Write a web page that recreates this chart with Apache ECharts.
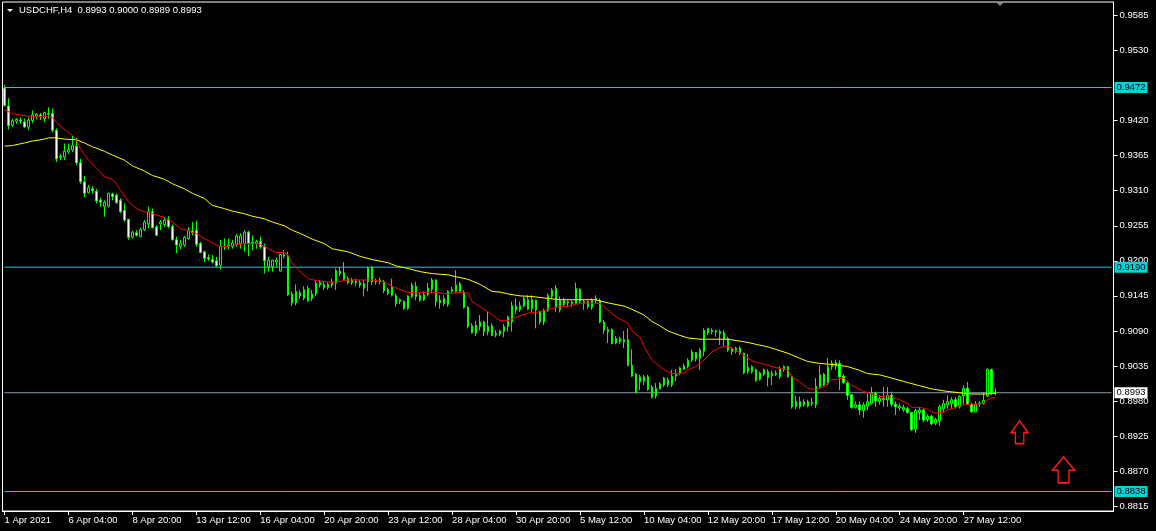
<!DOCTYPE html>
<html><head><meta charset="utf-8">
<script src="https://cdn.jsdelivr.net/npm/echarts@6/dist/echarts.min.js"></script>
<style>html,body{margin:0;padding:0;background:#000;}#c{width:1156px;height:531px;}</style>
</head><body><div id="c"></div>
<script>
const symbolName = 'USDCHF,H4';
const timeLabels = ['1 Apr 2021','6 Apr 04:00','8 Apr 20:00','13 Apr 12:00','16 Apr 04:00','20 Apr 20:00','23 Apr 12:00','28 Apr 04:00','30 Apr 20:00','5 May 12:00','10 May 04:00','12 May 20:00','17 May 12:00','20 May 04:00','24 May 20:00','27 May 12:00'];
const priceTicks = [0.9585,0.9530,0.9420,0.9365,0.9310,0.9255,0.9200,0.9145,0.9090,0.9035,0.8980,0.8925,0.8870,0.8815];
const levelLines = [0.9472,0.9190,0.8838];
const bidPrice = 0.8993;
const arrowIdx = [254,265];
const arrowPrice = [0.8931,0.8872];

const open = [
0.9471,0.9443,0.9413,0.9419,0.9421,0.9418,0.9410,0.9420,0.9427,0.9429,
0.9423,0.9431,0.9431,0.9405,0.9362,0.9363,0.9371,0.9374,0.9380,0.9354,
0.9324,0.9307,0.9313,0.9309,0.9295,0.9285,0.9286,0.9305,0.9303,0.9295,
0.9279,0.9265,0.9237,0.9244,0.9238,0.9249,0.9258,0.9277,0.9253,0.9258,
0.9257,0.9265,0.9254,0.9233,0.9223,0.9225,0.9235,0.9247,0.9248,0.9227,
0.9214,0.9205,0.9202,0.9200,0.9193,0.9222,0.9223,0.9222,0.9226,0.9227,
0.9227,0.9245,0.9229,0.9227,0.9230,0.9223,0.9191,0.9191,0.9198,0.9184,
0.9207,0.9208,0.9148,0.9134,0.9150,0.9141,0.9137,0.9148,0.9148,0.9162,
0.9163,0.9158,0.9162,0.9165,0.9184,0.9181,0.9172,0.9166,0.9168,0.9166,
0.9164,0.9167,0.9190,0.9168,0.9167,0.9167,0.9155,0.9146,0.9145,0.9136,
0.9136,0.9125,0.9144,0.9160,0.9138,0.9139,0.9147,0.9155,0.9170,0.9138,
0.9141,0.9131,0.9152,0.9152,0.9152,0.9151,0.9127,0.9098,0.9086,0.9097,
0.9104,0.9097,0.9098,0.9086,0.9085,0.9089,0.9097,0.9104,0.9123,0.9123,
0.9129,0.9124,0.9125,0.9138,0.9120,0.9104,0.9122,0.9144,0.9157,0.9123,
0.9131,0.9134,0.9135,0.9133,0.9155,0.9136,0.9136,0.9127,0.9138,0.9138,
0.9104,0.9092,0.9092,0.9071,0.9073,0.9076,0.9076,0.9036,0.9022,0.9010,
0.9011,0.9018,0.9002,0.8988,0.8999,0.9005,0.9013,0.9005,0.9019,0.9023,
0.9030,0.9034,0.9044,0.9056,0.9047,0.9058,0.9087,0.9091,0.9088,0.9089,
0.9087,0.9078,0.9062,0.9058,0.9063,0.9055,0.9026,0.9026,0.9029,0.9014,
0.9022,0.9026,0.9020,0.9022,0.9018,0.9029,0.9034,0.9018,0.8971,0.8979,
0.8974,0.8972,0.8978,0.8974,0.9002,0.9022,0.9008,0.9034,0.9040,0.9039,
0.9019,0.9008,0.8990,0.8970,0.8974,0.8965,0.8972,0.8976,0.8992,0.8979,
0.8982,0.8982,0.8989,0.8975,0.8969,0.8966,0.8968,0.8962,0.8936,0.8962,
0.8966,0.8951,0.8956,0.8945,0.8949,0.8968,0.8974,0.8976,0.8982,0.8971,
0.8988,0.9000,0.8975,0.8963,0.8976,0.8976,0.8988,0.9029,0.8993];
const close = [
0.9444,0.9412,0.9420,0.9422,0.9419,0.9410,0.9421,0.9429,0.9430,0.9426,
0.9433,0.9430,0.9405,0.9360,0.9364,0.9372,0.9375,0.9381,0.9354,0.9324,
0.9306,0.9315,0.9310,0.9294,0.9292,0.9292,0.9306,0.9301,0.9291,0.9277,
0.9264,0.9237,0.9245,0.9240,0.9249,0.9261,0.9277,0.9252,0.9240,0.9261,
0.9264,0.9254,0.9233,0.9225,0.9227,0.9237,0.9248,0.9244,0.9226,0.9213,
0.9204,0.9203,0.9198,0.9192,0.9223,0.9223,0.9225,0.9228,0.9239,0.9239,
0.9245,0.9227,0.9227,0.9230,0.9222,0.9200,0.9201,0.9201,0.9201,0.9210,
0.9210,0.9147,0.9134,0.9152,0.9145,0.9155,0.9157,0.9141,0.9165,0.9166,
0.9158,0.9163,0.9167,0.9185,0.9180,0.9171,0.9166,0.9170,0.9166,0.9162,
0.9157,0.9189,0.9167,0.9167,0.9170,0.9153,0.9149,0.9159,0.9133,0.9139,
0.9125,0.9145,0.9162,0.9144,0.9146,0.9147,0.9157,0.9170,0.9136,0.9134,
0.9133,0.9152,0.9155,0.9162,0.9164,0.9127,0.9097,0.9087,0.9099,0.9104,
0.9089,0.9089,0.9083,0.9084,0.9090,0.9097,0.9112,0.9130,0.9129,0.9130,
0.9141,0.9139,0.9139,0.9123,0.9104,0.9122,0.9146,0.9154,0.9128,0.9138,
0.9139,0.9136,0.9133,0.9157,0.9136,0.9134,0.9128,0.9138,0.9141,0.9104,
0.9091,0.9089,0.9070,0.9078,0.9078,0.9073,0.9036,0.9019,0.8993,0.9018,
0.9018,0.8998,0.8986,0.9000,0.9007,0.9016,0.9006,0.9019,0.9022,0.9032,
0.9035,0.9044,0.9057,0.9046,0.9060,0.9091,0.9094,0.9089,0.9090,0.9086,
0.9078,0.9060,0.9058,0.9063,0.9055,0.9024,0.9033,0.9034,0.9012,0.9024,
0.9029,0.9017,0.9023,0.9024,0.9031,0.9034,0.9018,0.8971,0.8979,0.8971,
0.8979,0.8979,0.8976,0.9003,0.9021,0.9005,0.9034,0.9039,0.9035,0.9018,
0.9009,0.8989,0.8970,0.8974,0.8966,0.8974,0.8979,0.8992,0.8980,0.8984,
0.8984,0.8989,0.8975,0.8971,0.8972,0.8970,0.8962,0.8935,0.8965,0.8966,
0.8950,0.8956,0.8944,0.8951,0.8971,0.8976,0.8979,0.8982,0.8971,0.8987,
0.9000,0.8975,0.8963,0.8975,0.8977,0.8981,0.9030,0.8992,0.8993];
const low = [
0.9442,0.9406,0.9410,0.9415,0.9415,0.9409,0.9405,0.9416,0.9422,0.9421,
0.9418,0.9423,0.9402,0.9355,0.9358,0.9358,0.9368,0.9371,0.9350,0.9321,
0.9300,0.9306,0.9306,0.9290,0.9285,0.9269,0.9284,0.9295,0.9290,0.9275,
0.9261,0.9233,0.9235,0.9238,0.9237,0.9247,0.9251,0.9251,0.9239,0.9248,
0.9253,0.9251,0.9232,0.9212,0.9218,0.9222,0.9233,0.9240,0.9222,0.9212,
0.9198,0.9200,0.9196,0.9191,0.9186,0.9217,0.9218,0.9219,0.9222,0.9219,
0.9214,0.9207,0.9217,0.9219,0.9219,0.9180,0.9183,0.9183,0.9191,0.9183,
0.9204,0.9145,0.9129,0.9130,0.9140,0.9138,0.9135,0.9137,0.9145,0.9158,
0.9154,0.9155,0.9158,0.9154,0.9176,0.9170,0.9163,0.9162,0.9160,0.9158,
0.9144,0.9152,0.9162,0.9163,0.9163,0.9149,0.9146,0.9144,0.9128,0.9132,
0.9123,0.9123,0.9141,0.9138,0.9136,0.9137,0.9144,0.9149,0.9128,0.9125,
0.9129,0.9128,0.9150,0.9149,0.9149,0.9125,0.9094,0.9086,0.9082,0.9091,
0.9082,0.9083,0.9082,0.9080,0.9082,0.9080,0.9089,0.9089,0.9117,0.9120,
0.9127,0.9123,0.9120,0.9094,0.9100,0.9099,0.9120,0.9141,0.9120,0.9119,
0.9128,0.9128,0.9128,0.9131,0.9133,0.9123,0.9125,0.9123,0.9133,0.9102,
0.9085,0.9071,0.9069,0.9069,0.9070,0.9063,0.9034,0.9018,0.8992,0.8997,
0.9005,0.8996,0.8984,0.8984,0.8998,0.9002,0.9002,0.9002,0.9011,0.9021,
0.9029,0.9031,0.9041,0.9042,0.9029,0.9050,0.9083,0.9085,0.9081,0.9068,
0.9066,0.9057,0.9052,0.9055,0.9052,0.9022,0.9023,0.9023,0.9010,0.9012,
0.9019,0.9003,0.9005,0.9019,0.9015,0.9026,0.9017,0.8968,0.8967,0.8968,
0.8971,0.8970,0.8972,0.8969,0.9001,0.9003,0.9005,0.9029,0.9029,0.8997,
0.9007,0.8982,0.8968,0.8968,0.8958,0.8954,0.8966,0.8974,0.8971,0.8974,
0.8971,0.8971,0.8971,0.8958,0.8965,0.8963,0.8960,0.8933,0.8930,0.8950,
0.8947,0.8947,0.8942,0.8942,0.8941,0.8963,0.8968,0.8968,0.8968,0.8968,
0.8975,0.8974,0.8962,0.8962,0.8971,0.8974,0.8986,0.8989,0.8989];
const high = [
0.9476,0.9455,0.9423,0.9424,0.9425,0.9423,0.9425,0.9436,0.9432,0.9432,
0.9434,0.9441,0.9439,0.9408,0.9368,0.9384,0.9384,0.9396,0.9393,0.9360,
0.9333,0.9319,0.9317,0.9313,0.9299,0.9295,0.9307,0.9307,0.9306,0.9298,
0.9290,0.9266,0.9247,0.9248,0.9252,0.9264,0.9285,0.9282,0.9256,0.9264,
0.9268,0.9270,0.9257,0.9238,0.9233,0.9239,0.9253,0.9261,0.9263,0.9230,
0.9216,0.9210,0.9209,0.9206,0.9233,0.9235,0.9235,0.9233,0.9242,0.9243,
0.9248,0.9247,0.9240,0.9233,0.9238,0.9227,0.9206,0.9202,0.9205,0.9211,
0.9217,0.9214,0.9152,0.9163,0.9154,0.9160,0.9161,0.9154,0.9170,0.9170,
0.9167,0.9166,0.9172,0.9188,0.9190,0.9198,0.9176,0.9173,0.9172,0.9170,
0.9170,0.9191,0.9192,0.9172,0.9174,0.9170,0.9158,0.9172,0.9149,0.9141,
0.9138,0.9146,0.9166,0.9167,0.9150,0.9152,0.9165,0.9173,0.9171,0.9146,
0.9146,0.9154,0.9159,0.9185,0.9167,0.9154,0.9129,0.9102,0.9106,0.9115,
0.9106,0.9120,0.9102,0.9091,0.9092,0.9101,0.9114,0.9136,0.9141,0.9136,
0.9144,0.9146,0.9146,0.9139,0.9122,0.9125,0.9149,0.9157,0.9162,0.9144,
0.9142,0.9138,0.9138,0.9166,0.9157,0.9139,0.9138,0.9141,0.9146,0.9141,
0.9107,0.9096,0.9094,0.9082,0.9081,0.9090,0.9094,0.9061,0.9024,0.9021,
0.9021,0.9021,0.9005,0.9008,0.9010,0.9018,0.9017,0.9029,0.9030,0.9034,
0.9039,0.9047,0.9061,0.9057,0.9063,0.9094,0.9095,0.9094,0.9092,0.9092,
0.9091,0.9081,0.9065,0.9065,0.9066,0.9056,0.9054,0.9036,0.9031,0.9026,
0.9031,0.9030,0.9028,0.9028,0.9034,0.9036,0.9035,0.9019,0.8988,0.8987,
0.8983,0.8982,0.8985,0.9016,0.9036,0.9024,0.9048,0.9044,0.9045,0.9044,
0.9022,0.9010,0.8991,0.8979,0.8979,0.8978,0.8992,0.9002,0.8995,0.8989,
0.9002,0.9002,0.8995,0.8979,0.8976,0.8974,0.8971,0.8963,0.8968,0.8971,
0.8968,0.8959,0.8958,0.8954,0.8974,0.8982,0.8989,0.8986,0.8986,0.8989,
0.9005,0.9010,0.8977,0.8980,0.8980,0.8994,0.9031,0.9031,0.9000];

// moving averages: [bar index, value]
const maFast = [[0,0.9437],[2,0.9431],[4,0.9429],[6,0.9427],[8,0.9426],[11,0.9427],[12,0.9425],[13,0.9417],[15,0.9406],[16,0.9401],[17,0.9397],[18,0.9390],[19,0.9376],[21,0.9358],[23,0.9346],[25,0.9332],[27,0.9328],[28,0.9321],[29,0.9311],[31,0.9293],[33,0.9282],[35,0.9277],[36,0.9276],[38,0.9272],[40,0.9268],[42,0.9261],[44,0.9251],[46,0.9247],[48,0.9243],[50,0.9235],[52,0.9228],[54,0.9222],[56,0.9223],[58,0.9225],[60,0.9227],[62,0.9227],[64,0.9226],[66,0.9219],[68,0.9213],[70,0.9213],[71,0.9209],[72,0.9196],[74,0.9183],[76,0.9172],[78,0.9169],[82,0.9166],[86,0.9170],[89,0.9170],[92,0.9170],[95,0.9167],[97,0.9160],[101,0.9150],[104,0.9150],[107,0.9151],[111,0.9148],[114,0.9151],[116,0.9149],[117,0.9136],[121,0.9120],[124,0.9106],[126,0.9106],[129,0.9114],[131,0.9118],[134,0.9120],[136,0.9124],[139,0.9128],[141,0.9129],[144,0.9133],[146,0.9134],[149,0.9133],[151,0.9123],[153,0.9112],[156,0.9102],[157,0.9090],[159,0.9080],[160,0.9066],[162,0.9044],[165,0.9029],[167,0.9023],[170,0.9024],[171,0.9029],[173,0.9034],[175,0.9044],[177,0.9057],[179,0.9064],[181,0.9066],[182,0.9063],[185,0.9052],[187,0.9043],[191,0.9036],[194,0.9031],[196,0.9029],[197,0.9018],[199,0.9010],[201,0.9000],[203,0.8998],[205,0.9002],[207,0.9013],[210,0.9016],[212,0.9005],[215,0.8995],[217,0.8991],[219,0.8987],[221,0.8988],[222,0.8986],[224,0.8982],[226,0.8976],[227,0.8970],[229,0.8970],[231,0.8967],[232,0.8963],[233,0.8961],[235,0.8962],[236,0.8966],[238,0.8970],[240,0.8974],[241,0.8975],[243,0.8975],[245,0.8976],[246,0.8982],[247,0.8985],[248,0.8986]];
const maSlow = [[0,0.9380],[2,0.9381],[5,0.9385],[7,0.9388],[10,0.9391],[11,0.9393],[13,0.9393],[15,0.9391],[18,0.9390],[20,0.9385],[22,0.9379],[25,0.9372],[27,0.9366],[30,0.9358],[32,0.9349],[35,0.9341],[37,0.9334],[40,0.9328],[42,0.9321],[45,0.9313],[47,0.9306],[50,0.9298],[52,0.9287],[55,0.9282],[57,0.9278],[60,0.9274],[62,0.9270],[65,0.9266],[67,0.9261],[70,0.9255],[72,0.9248],[74,0.9243],[77,0.9234],[80,0.9227],[82,0.9219],[86,0.9214],[89,0.9207],[92,0.9202],[96,0.9197],[98,0.9192],[101,0.9188],[104,0.9183],[107,0.9180],[111,0.9178],[113,0.9175],[116,0.9171],[119,0.9163],[122,0.9152],[124,0.9151],[126,0.9148],[129,0.9145],[132,0.9144],[136,0.9141],[139,0.9139],[143,0.9139],[148,0.9139],[149,0.9137],[151,0.9134],[155,0.9129],[157,0.9124],[160,0.9115],[162,0.9105],[164,0.9098],[166,0.9090],[169,0.9083],[171,0.9079],[174,0.9077],[177,0.9077],[181,0.9077],[183,0.9075],[186,0.9072],[188,0.9069],[191,0.9065],[193,0.9061],[196,0.9055],[199,0.9047],[201,0.9042],[204,0.9039],[206,0.9038],[209,0.9036],[211,0.9034],[214,0.9028],[216,0.9023],[219,0.9021],[222,0.9016],[226,0.9009],[229,0.9004],[232,0.8999],[236,0.8995],[239,0.8993],[242,0.8991],[245,0.8991],[248,0.8992]];

// ---- layout / styles ----
const SLOTS = 278;
const FONT = "'Liberation Sans', Arial, sans-serif";
const LIME = '#00ff00';
const CYAN = '#00d2da';
const BIDGRAY = '#8c9aae';
const ARROW_SIZES = [[17,23],[22,26]];
const ARROW_PATH = 'path://M8.5,0 L17,11.7 L12.7,11.7 L12.7,22.7 L4.3,22.7 L4.3,11.7 L0,11.7 Z';

const cats = Array.from({length: SLOTS}, (_, i) => String(i));
const candles = open.map((o, i) => [o, close[i], low[i], high[i]]);
const last = open.length - 1;
const titleText = symbolName + '  ' + [open[last], high[last], low[last], close[last]].map(v => v.toFixed(4)).join(' ');
const showIdx = (idx) => idx % 16 === 0 && idx / 16 < timeLabels.length;

// horizontal price level as a 2-point line series spanning the whole axis, with a price tag at its end
const levelSeries = (v, lineColor, tagBg) => ({
  type: 'line', silent: true, z: 2, showSymbol: false, symbol: 'none',
  data: [[0, v], [SLOTS - 1, v]],
  lineStyle: {color: lineColor, width: 1, type: 'solid'},
  emphasis: {disabled: true},
  endLabel: {show: true, formatter: () => v.toFixed(4), backgroundColor: tagBg, color: '#000', fontSize: 9.5, fontFamily: FONT, padding: [1, 2, 0, 2], lineHeight: 10, distance: 3}
});

const chart = echarts.init(document.getElementById('c'), null, {renderer: 'canvas', width: 1156, height: 531});
chart.setOption({
  animation: false,
  backgroundColor: '#000',
  title: {text: titleText, left: 19, top: 5, padding: 0, textStyle: {color: '#fff', fontSize: 9.5, fontWeight: 'normal', fontFamily: FONT}},
  grid: {left: 2.5, right: 42.5, top: 2, bottom: 20, show: true, borderColor: '#fff', borderWidth: 1, backgroundColor: '#000'},
  xAxis: {
    type: 'category', data: cats, boundaryGap: true,
    axisLine: {show: true, lineStyle: {color: '#fff', width: 1}},
    axisTick: {show: true, interval: (i) => showIdx(i), alignWithLabel: true, length: 4, lineStyle: {color: '#fff'}},
    axisLabel: {interval: (i) => showIdx(i), formatter: (v, i) => timeLabels[i / 16] || '', align: 'left', margin: 4, color: '#fff', fontSize: 9.5, fontFamily: FONT},
    splitLine: {show: false}
  },
  yAxis: {
    type: 'value', position: 'right', min: 0.880740, max: 0.960618,
    axisLine: {show: true, lineStyle: {color: '#fff', width: 1}},
    axisTick: {show: true, customValues: priceTicks, length: 4, inside: false, lineStyle: {color: '#fff'}},
    axisLabel: {customValues: priceTicks, formatter: (v) => v.toFixed(4), color: '#fff', fontSize: 9.5, fontFamily: FONT, margin: 6},
    splitLine: {show: false}
  },
  graphic: [
    {type: 'polygon', shape: {points: [[7, 9], [13, 9], [10, 12]]}, style: {fill: '#fff'}, z: 100},
    {type: 'polygon', shape: {points: [[996, 2], [1004, 2], [1000, 6]]}, style: {fill: '#8a8a8a'}, z: 100}
  ],
  series: levelLines.map(v => levelSeries(v, CYAN, CYAN)).concat([
    levelSeries(bidPrice, BIDGRAY, '#fff'),
    {
      type: 'candlestick', data: candles, barWidth: 2, z: 3,
      itemStyle: {color: '#000', color0: '#fff', borderColor: LIME, borderColor0: LIME, borderColorDoji: LIME, borderWidth: 1}
    },
    {type: 'line', data: maSlow, showSymbol: false, symbol: 'none', lineStyle: {color: '#ffff00', width: 1}, z: 4},
    {type: 'line', data: maFast, showSymbol: false, symbol: 'none', lineStyle: {color: '#ff0000', width: 1}, z: 5},
    {
      type: 'scatter', z: 6,
      data: arrowIdx.map((x, k) => ({value: [x, arrowPrice[k]], symbolSize: ARROW_SIZES[k]})),
      symbol: ARROW_PATH,
      itemStyle: {color: 'rgba(0,0,0,0)', borderColor: '#ff1a1a', borderWidth: 1.5, opacity: 1}
    }
  ])
});
</script>
</body></html>
